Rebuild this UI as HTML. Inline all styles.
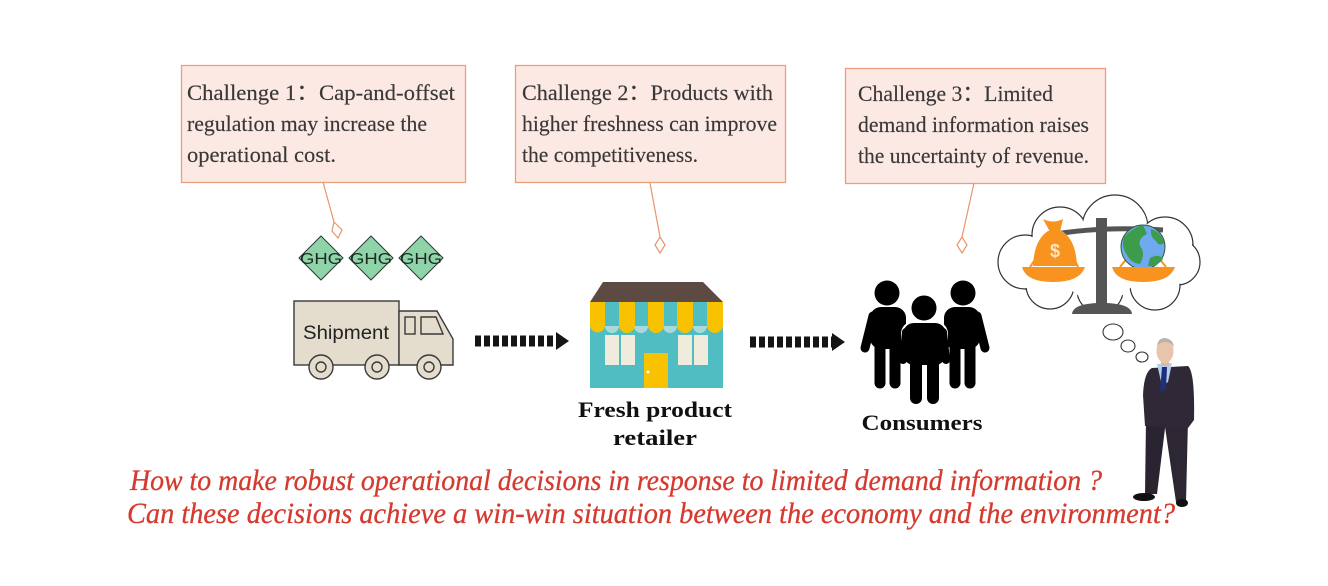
<!DOCTYPE html>
<html><head><meta charset="utf-8">
<style>
html,body{margin:0;padding:0;background:#fff;}
svg{display:block;}
</style></head>
<body>
<svg width="1328" height="586" viewBox="0 0 1328 586" xmlns="http://www.w3.org/2000/svg">
<rect width="1328" height="586" fill="#fff"/>

<!-- Challenge boxes -->
<g fill="#fde9e4" stroke="#e9a07c" stroke-width="1.3">
  <rect x="181.5" y="65.5" width="284" height="117"/>
  <rect x="515.5" y="65.5" width="270" height="117"/>
  <rect x="845.5" y="68.5" width="260" height="115"/>
</g>
<g font-family="'Liberation Serif', serif" font-size="22" fill="#383838" stroke="#383838" stroke-width="0.15">
  <text x="187" y="100" textLength="268" lengthAdjust="spacingAndGlyphs">Challenge 1：Cap-and-offset</text>
  <text x="187" y="131" textLength="240" lengthAdjust="spacingAndGlyphs">regulation may increase the</text>
  <text x="187" y="162" textLength="149" lengthAdjust="spacingAndGlyphs">operational cost.</text>

  <text x="522" y="100" textLength="251" lengthAdjust="spacingAndGlyphs">Challenge 2：Products with</text>
  <text x="522" y="131" textLength="255" lengthAdjust="spacingAndGlyphs">higher freshness can improve</text>
  <text x="522" y="162" textLength="176" lengthAdjust="spacingAndGlyphs">the competitiveness.</text>

  <text x="858" y="101" textLength="195" lengthAdjust="spacingAndGlyphs">Challenge 3：Limited</text>
  <text x="858" y="132" textLength="231" lengthAdjust="spacingAndGlyphs">demand information raises</text>
  <text x="858" y="163" textLength="231" lengthAdjust="spacingAndGlyphs">the uncertainty of revenue.</text>
</g>

<!-- connectors -->
<g stroke="#e8956a" stroke-width="1.2" fill="#fff">
  <line x1="323" y1="182" x2="334" y2="222"/>
  <polygon points="334,222 342,230 338,238 332,231"/>
  <line x1="650" y1="183" x2="660" y2="237"/>
  <polygon points="660,237 665,245 660,253 655,245"/>
  <line x1="974" y1="183" x2="962" y2="237"/>
  <polygon points="962,237 967,245 962,253 957,245"/>
</g>

<!-- GHG diamonds -->
<g stroke="#2d3a30" stroke-width="1" fill="#8fd4a9">
  <polygon points="321,236 343,258 321,280 299,258"/>
  <polygon points="371,236 393,258 371,280 349,258"/>
  <polygon points="421,236 443,258 421,280 399,258"/>
</g>
<g font-family="'Liberation Sans', sans-serif" font-size="16" fill="#1c2a22" text-anchor="middle">
  <text x="321" y="264" textLength="42" lengthAdjust="spacingAndGlyphs">GHG</text>
  <text x="371" y="264" textLength="42" lengthAdjust="spacingAndGlyphs">GHG</text>
  <text x="421" y="264" textLength="42" lengthAdjust="spacingAndGlyphs">GHG</text>
</g>

<!-- Truck -->
<g stroke="#3a3a3a" stroke-width="1.4" fill="#e4dccd">
  <rect x="294" y="301" width="105" height="64"/>
  <polygon points="399,311 437,311 453,339 453,365 399,365"/>
  <rect x="405" y="317" width="10" height="17" fill="#e4dccd"/>
  <polygon points="421,317 436,317 443,334 421,334"/>
  <circle cx="321" cy="367" r="12"/>
  <circle cx="321" cy="367" r="5"/>
  <circle cx="377" cy="367" r="12"/>
  <circle cx="377" cy="367" r="5"/>
  <circle cx="429" cy="367" r="12"/>
  <circle cx="429" cy="367" r="5"/>
</g>
<text x="303" y="339" font-family="'Liberation Sans', sans-serif" font-size="19" fill="#222" textLength="86" lengthAdjust="spacingAndGlyphs">Shipment</text>

<!-- Arrows -->
<line x1="475" y1="341" x2="557" y2="341" stroke="#151515" stroke-width="11" stroke-dasharray="6 3"/>
<polygon points="556,332 569,341 556,350" fill="#151515"/>
<line x1="750" y1="342" x2="833" y2="342" stroke="#151515" stroke-width="11" stroke-dasharray="6 3"/>
<polygon points="832,333 845,342 832,351" fill="#151515"/>

<!-- Store -->
<g>
  <rect x="590" y="302" width="133" height="86" fill="#4fbdc1"/>
  <polygon points="603,282 703,282 723,302 590,302" fill="#5d4a43"/>
  <g fill="#a9d9da">
    <circle cx="612" cy="326" r="7"/>
    <circle cx="641" cy="326" r="7"/>
    <circle cx="670" cy="326" r="7"/>
    <circle cx="700" cy="326" r="7"/>
  </g>
  <rect x="590" y="318" width="133" height="8" fill="#4fbdc1"/>
  <g fill="#f9c200">
    <path d="M590,302 h15 v23 a7.5,7.5 0 0 1 -15,0 z"/>
    <path d="M619,302 h16 v23 a8,8 0 0 1 -16,0 z"/>
    <path d="M648,302 h16 v23 a8,8 0 0 1 -16,0 z"/>
    <path d="M677,302 h16 v23 a8,8 0 0 1 -16,0 z"/>
    <path d="M707,302 h16 v23 a8,8 0 0 1 -16,0 z"/>
  </g>
  <rect x="605" y="335" width="14" height="30" fill="#efebdd"/>
  <rect x="621" y="335" width="14" height="30" fill="#efebdd"/>
  <rect x="678" y="335" width="14" height="30" fill="#efebdd"/>
  <rect x="694" y="335" width="14" height="30" fill="#efebdd"/>
  <rect x="644" y="353" width="24" height="35" fill="#f9c200"/>
  <circle cx="648" cy="372" r="1.5" fill="#fff"/>
</g>
<g font-family="'Liberation Serif', serif" font-weight="bold" font-size="22" fill="#111" text-anchor="middle">
  <text x="655" y="417" textLength="154" lengthAdjust="spacingAndGlyphs">Fresh product</text>
  <text x="655" y="445" textLength="84" lengthAdjust="spacingAndGlyphs">retailer</text>
  <text x="922" y="430" textLength="121" lengthAdjust="spacingAndGlyphs">Consumers</text>
</g>

<!-- Consumers -->
<g fill="#000" stroke="#000" stroke-linecap="round">
  <circle cx="887" cy="293" r="12.5" stroke="none"/>
  <rect x="870" y="307" width="36" height="42" rx="11" stroke="none"/>
  <line x1="873" y1="316" x2="865" y2="348" stroke-width="9"/>
  <line x1="880" y1="345" x2="880" y2="383" stroke-width="11"/>
  <line x1="895" y1="345" x2="895" y2="383" stroke-width="11"/>
  <circle cx="963" cy="293" r="12.5" stroke="none"/>
  <rect x="944" y="307" width="36" height="42" rx="11" stroke="none"/>
  <line x1="977" y1="316" x2="985" y2="348" stroke-width="9"/>
  <line x1="955" y1="345" x2="955" y2="383" stroke-width="11"/>
  <line x1="970" y1="345" x2="970" y2="383" stroke-width="11"/>
</g>
<g fill="#000" stroke="#fff" stroke-width="2">
  <circle cx="924" cy="308" r="13.5"/>
  <rect x="902" y="322" width="45" height="44" rx="12"/>
</g>
<g stroke="#000" stroke-linecap="round">
  <line x1="916" y1="360" x2="916" y2="398" stroke-width="12"/>
  <line x1="933" y1="360" x2="933" y2="398" stroke-width="12"/>
  <line x1="906" y1="332" x2="903" y2="360" stroke-width="8"/>
  <line x1="943" y1="332" x2="946" y2="360" stroke-width="8"/>
</g>
<rect x="906" y="326" width="37" height="38" rx="10" fill="#000"/>

<!-- Thought cloud -->
<g fill="#fff" stroke="#333" stroke-width="1.2">
  <circle cx="1025" cy="262" r="27"/>
  <circle cx="1060" cy="235" r="28"/>
  <circle cx="1115" cy="228" r="33"/>
  <circle cx="1165" cy="245" r="28"/>
  <circle cx="1177" cy="262" r="23"/>
  <circle cx="1155" cy="285" r="25"/>
  <circle cx="1100" cy="290" r="23"/>
  <circle cx="1050" cy="285" r="24"/>
</g>
<g fill="#fff">
  <circle cx="1025" cy="262" r="26"/>
  <circle cx="1060" cy="235" r="27"/>
  <circle cx="1115" cy="228" r="32"/>
  <circle cx="1165" cy="245" r="27"/>
  <circle cx="1177" cy="262" r="22"/>
  <circle cx="1155" cy="285" r="24"/>
  <circle cx="1100" cy="290" r="22"/>
  <circle cx="1050" cy="285" r="23"/>
  <circle cx="1100" cy="262" r="40"/>
</g>
<g fill="#fff" stroke="#333" stroke-width="1.1">
  <ellipse cx="1113" cy="332" rx="10" ry="8"/>
  <ellipse cx="1128" cy="346" rx="7" ry="6"/>
  <ellipse cx="1142" cy="357" rx="6" ry="5"/>
</g>

<!-- Scale -->
<path d="M1050,235 Q1100,226 1163,230" fill="none" stroke="#555" stroke-width="5"/>
<rect x="1096" y="218" width="11" height="92" fill="#555"/>
<path d="M1072,314 Q1073,303 1102,303 Q1131,303 1132,314 Z" fill="#555"/>
<!-- left pan + bag -->
<path d="M1033,266 Q1034,240 1048,231 L1062,231 Q1076,240 1077,266 Z" fill="#f7931e"/>
<path d="M1043,219 Q1053,224 1063,219 L1060,232 L1050,232 Z" fill="#f7931e"/>
<text x="1055" y="257" font-family="'Liberation Sans', sans-serif" font-weight="bold" font-size="18" fill="#fde7c8" text-anchor="middle">$</text>
<g stroke="#f7931e" stroke-width="2">
  <line x1="1030" y1="267" x2="1036" y2="258"/>
  <line x1="1078" y1="267" x2="1074" y2="258"/>
</g>
<path d="M1022,267 L1085,267 Q1080,282 1053,282 Q1026,282 1022,267 Z" fill="#f7931e"/>
<!-- right pan + globe -->
<g stroke="#f7931e" stroke-width="2">
  <line x1="1120" y1="267" x2="1132" y2="252"/>
  <line x1="1166" y1="267" x2="1154" y2="252"/>
</g>
<circle cx="1143" cy="247" r="22" fill="#6fa9ef" stroke="#2f5a3a" stroke-width="1"/>
<path d="M1124,237 Q1132,228 1143,225 L1147,234 Q1138,238 1140,246 Q1146,253 1140,264 Q1131,263 1127,255 Q1121,247 1124,237 Z" fill="#3d9b4c"/>
<path d="M1151,229 Q1161,232 1164,243 Q1159,247 1156,241 Q1150,237 1151,229 Z" fill="#3d9b4c"/>
<path d="M1150,258 Q1159,253 1163,259 Q1157,267 1148,266 Z" fill="#3d9b4c"/>
<path d="M1112,267 L1175,267 Q1170,282 1143,282 Q1116,282 1112,267 Z" fill="#f7931e"/>

<!-- Businessman -->
<g>
  <polygon points="1146,420 1166,420 1157,494 1145,494" fill="#2a2431"/>
  <polygon points="1164,420 1188,420 1186,502 1176,502" fill="#2d2733"/>
  <ellipse cx="1144" cy="497" rx="11" ry="4" fill="#111"/>
  <ellipse cx="1182" cy="503" rx="6" ry="4" fill="#111"/>
  <path d="M1152,368 L1188,366 Q1195,372 1194,420 L1188,428 L1145,426 L1143,395 Q1144,372 1152,368 Z" fill="#2f2937"/>
  <polygon points="1157,364 1172,363 1168,382 1162,386" fill="#b7cfee"/>
  <polygon points="1162,367 1167,367 1166,389 1160,392" fill="#1f2f7a"/>
  <rect x="1161" y="358" width="8" height="8" fill="#e2b89f"/>
  <ellipse cx="1165" cy="351" rx="8.5" ry="12" fill="#e9c4ac"/>
  <path d="M1157,346 Q1158,338 1165,338 Q1173,339 1174,347 Q1171,342 1165,342 Q1160,342 1157,346 Z" fill="#b9b3aa"/>
</g>

<!-- Questions -->
<g font-family="'Liberation Serif', serif" font-style="italic" font-size="30" fill="#d63a2f" stroke="#d63a2f" stroke-width="0.3">
  <text x="130" y="490" textLength="972" lengthAdjust="spacingAndGlyphs">How to make robust operational decisions in response to limited demand information ?</text>
  <text x="127" y="523" textLength="1048" lengthAdjust="spacingAndGlyphs">Can these decisions achieve a win-win situation between the economy and the environment?</text>
</g>
</svg>
</body></html>
